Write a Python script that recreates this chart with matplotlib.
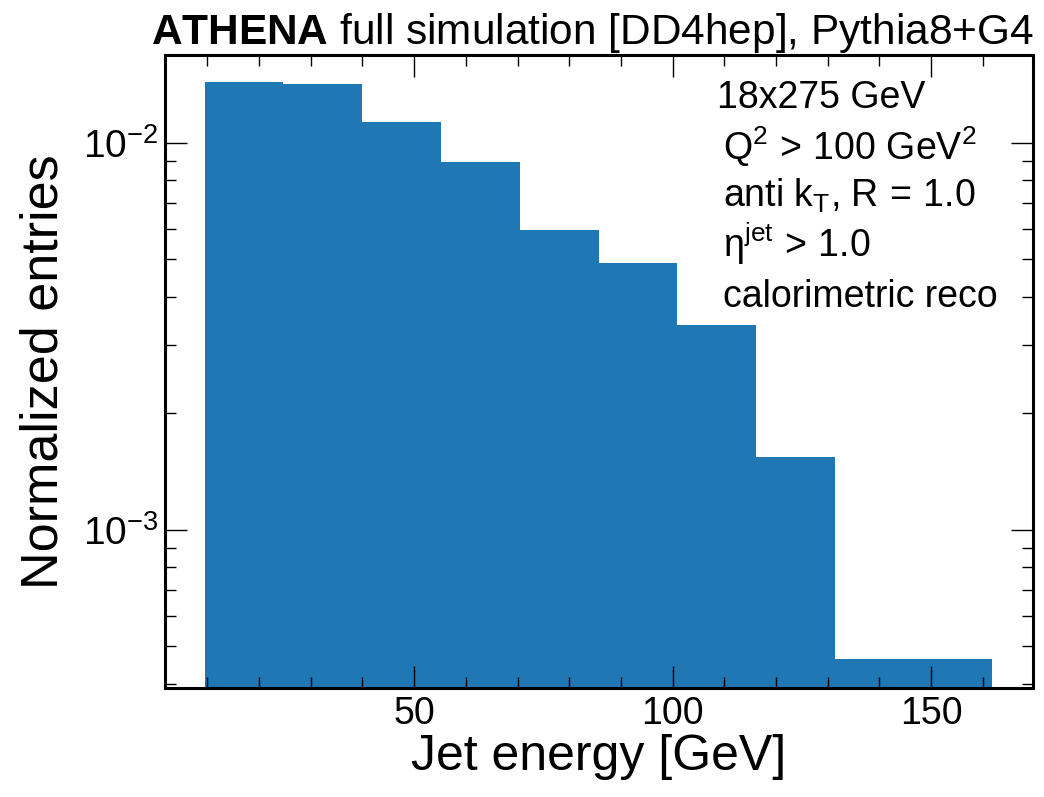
#!/usr/bin/env python3
import numpy as np
import matplotlib
matplotlib.use('Agg')
from matplotlib import pyplot as plt
from matplotlib.ticker import MultipleLocator, LogLocator

# Histogram data (normalized, density)
bin_edges = [9.5, 24.7, 40.0, 55.2, 70.4, 85.7, 100.9, 116.1, 131.3, 146.6, 161.8]
bin_values = [0.01438, 0.01421, 0.01133, 0.00893, 0.00596,
              0.00490, 0.00339, 0.001546, 0.000464, 0.000464]

title_text = r'$\mathbf{ATHENA}$ full simulation [DD4hep], Pythia8+G4'
info_lines = ['18x275 GeV',
              r'$Q^2\,>\,100\ GeV^2$',
              r'anti $k_T$, R$\,=\,$1.0',
              r'$\eta^{jet}\,>\,1.0$',
              'calorimetric reco']

# Style
plt.rcParams['font.family'] = ['Liberation Sans', 'DejaVu Sans']
plt.rcParams['mathtext.fontset'] = 'custom'
plt.rcParams['mathtext.rm'] = 'Liberation Sans'
plt.rcParams['mathtext.it'] = 'Liberation Sans'
plt.rcParams['mathtext.bf'] = 'Liberation Sans:bold'
plt.rcParams['mathtext.default'] = 'regular'


def main():
    fig = plt.figure(figsize=(10.44, 7.97), dpi=100)
    ax = fig.add_axes([0.158, 0.137, 0.8315, 0.794])

    edges = np.array(bin_edges)
    ax.hist(edges[:-1], bins=edges, weights=bin_values, color='#1f77b4', log=True)

    ax.set_xlim(1.8, 169.7)
    ax.set_ylim(3.91e-4, 1.688e-2)

    # Ticks on all sides, pointing in
    ax.xaxis.set_major_locator(MultipleLocator(50))
    ax.xaxis.set_minor_locator(MultipleLocator(10))
    ax.yaxis.set_minor_locator(LogLocator(base=10, subs=np.arange(2, 10)))
    ax.tick_params(which='both', direction='in', top=True, right=True)
    ax.tick_params(which='major', length=16, width=1.0, labelsize=27)
    ax.tick_params(which='minor', length=8, width=1.0)
    ax.tick_params(axis='x', which='major', pad=6)
    ax.tick_params(axis='y', which='major', pad=5, labelsize=28)
    for sp in ax.spines.values():
        sp.set_linewidth(2.2)

    ax.set_xlabel('Jet energy [GeV]', fontsize=36, labelpad=1)
    ax.set_ylabel('Normalized entries', fontsize=37.5, labelpad=10)
    ax.set_title(title_text, fontsize=30.5, pad=8, x=0.492)

    # Info text block
    baselines = [108, 160, 207, 257, 307]
    for i, line in enumerate(info_lines):
        xpix = 717 if i == 0 else 723
        fig.text(xpix / 1044, 1 - baselines[i] / 797, line, fontsize=27,
                 ha='left', va='baseline')

    fig.savefig('out.png', dpi=100)


if __name__ == "__main__":
    main()
